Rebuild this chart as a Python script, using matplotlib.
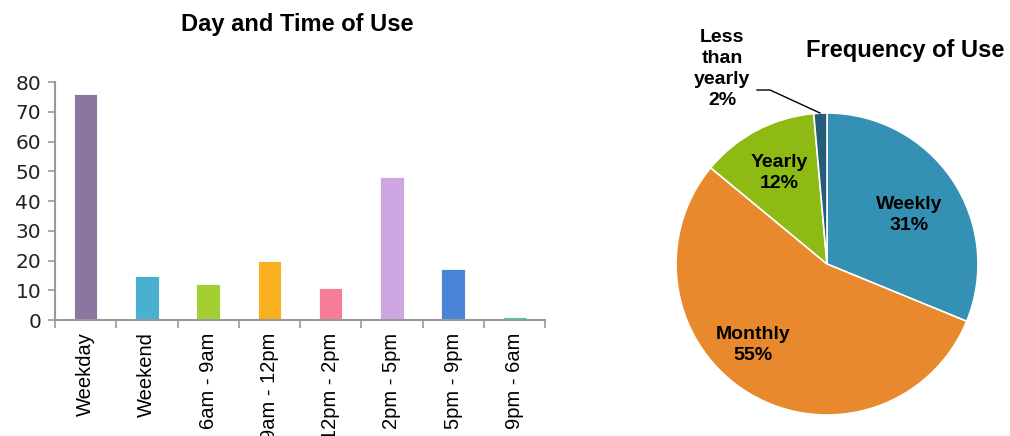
import matplotlib.pyplot as plt

plt.rcParams["font.family"] = ["Liberation Sans", "DejaVu Sans"]

# bar chart data
categories = ["Weekday", "Weekend", "6am - 9am", "9am - 12pm", "12pm - 2pm", "2pm - 5pm", "5pm - 9pm", "9pm - 6am"]
counts = [76, 14.7, 12, 20, 10.7, 48, 17.3, 1]
bar_colors = ["#8c76a0", "#4bb0cf", "#a4cf32", "#f8b020", "#f77d96", "#cea6e2", "#4a84d6", "#3ad3b0"]

# pie chart data (shares as drawn, labels as printed)
freq_labels = ["Weekly", "Monthly", "Yearly", "Less\nthan\nyearly"]
freq_share = [31.2, 54.8, 12.6, 1.4]
freq_pct_text = ["31%", "55%", "12%", "2%"]
pie_colors = ["#3591b4", "#e8892d", "#8dbb13", "#275c78"]

fig = plt.figure(figsize=(10.1, 4.36), dpi=100)

# --- bar chart ---
ax = fig.add_axes([55 / 1010, 1 - 320 / 436, 490 / 1010, 238 / 436])
x = list(range(len(categories)))
ax.bar(x, counts, width=0.38, color=bar_colors, edgecolor="white", linewidth=0.6)
ax.set_xlim(-0.5, len(categories) - 0.5)
ax.set_ylim(0, 80)
ax.set_yticks(range(0, 81, 10))
ax.set_xticks(x)
ax.set_xticklabels(categories, rotation=90, fontsize=14.5)
ax.set_xticks([i - 0.5 for i in range(len(categories) + 1)], minor=True)
ax.tick_params(axis="x", which="major", length=0, pad=9)
ax.tick_params(axis="x", which="minor", length=6, color="#999999", width=1.2)
ax.tick_params(axis="y", length=5, color="#999999", width=1.2, labelsize=14.5, pad=5)
for lbl in ax.get_yticklabels():
    lbl.set_family(["DejaVu Sans"])
    lbl.set_color("#222222")
for side in ("top", "right"):
    ax.spines[side].set_visible(False)
for side in ("left", "bottom"):
    ax.spines[side].set_color("#999999")
    ax.spines[side].set_linewidth(1.5)
fig.text(297 / 1010, 1 - 24 / 436, "Day and Time of Use", ha="center", va="center",
         fontsize=17, fontweight="bold")

# --- pie chart ---
cx, cy, r = 827, 264, 151
half = 170
ax2 = fig.add_axes([(cx - half) / 1010, 1 - (cy + half) / 436, 2 * half / 1010, 2 * half / 436])
ax2.pie(freq_share, colors=pie_colors, startangle=90, counterclock=False,
        wedgeprops=dict(edgecolor="white", linewidth=1.2))
lim = half / r
ax2.set_xlim(-lim, lim)
ax2.set_ylim(-lim, lim)
ax2.set_aspect("equal")
ax2.axis("off")


def d(px, py):
    return (px - cx) / r, (cy - py) / r


label_pos = [(909, 215), (753, 345), (779, 173), (722, 69)]
for lab, pct, (px, py) in zip(freq_labels, freq_pct_text, label_pos):
    tx, ty = d(px, py)
    ax2.text(tx, ty, f"{lab}\n{pct}", ha="center", va="center", fontsize=14,
             fontweight="bold", linespacing=1.3, clip_on=False)

pts = [d(757, 90), d(770, 90), d(820, 113)]
ax2.plot([p[0] for p in pts], [p[1] for p in pts], color="black", linewidth=1, clip_on=False)

fig.text(905 / 1010, 1 - 50 / 436, "Frequency of Use", ha="center", va="center",
         fontsize=17, fontweight="bold")

fig.savefig("out.png", dpi=100)
